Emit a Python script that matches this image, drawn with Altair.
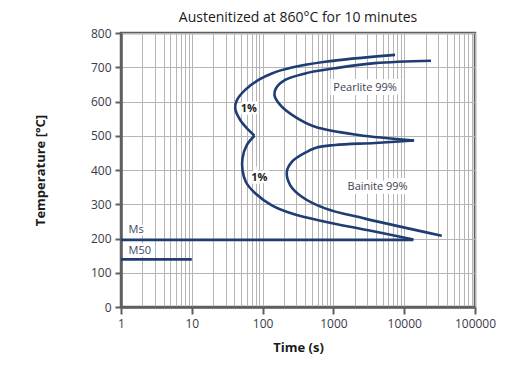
import altair as alt
import pandas as pd

# 1% transformation curve (outer), split at the cusp near 500 °C
outer_top_t = [7430, 764, 259, 135, 87.5, 56.8, 43.4, 41.0, 48.3, 63.2, 76.8]
outer_top_T = [736, 716, 699, 682, 663, 634, 604, 580, 546, 517, 500]
outer_bot_t = [76.8, 60.0, 52.0, 52.0, 58.1, 78.6, 135, 259, 764, 3120, 13460]
outer_bot_T = [500, 473, 434, 400, 365, 332, 297, 273, 249, 224, 197]

# 99% transformation curve (inner), split at the tip near 485 °C
inner_top_t = [23900, 3880, 1057, 399, 208, 154, 147, 177, 288, 552, 2250, 13780]
inner_top_T = [719, 712, 697, 682, 663, 638, 619, 590, 555, 526, 502, 486]
inner_bot_t = [13780, 3880, 1057, 583, 378, 259, 220, 245, 358, 764, 2800, 33900]
inner_bot_T = [486, 479, 473, 466, 448, 424, 395, 356, 322, 288, 258, 208]

# Martensite lines
ms_t = [1, 13460]
ms_T = [196, 196]
m50_t = [1, 10]
m50_T = [139, 139]

# Text labels
label_text = ["Pearlite 99%", "Bainite 99%", "1%", "1%", "Ms", "M50"]
label_t = [2800, 4210, 64, 90, 1.28, 1.28]
label_T = [638, 349, 578, 377, 224, 163]
label_kind = ["phase", "phase", "bold", "bold", "marker", "marker"]

x_grid_values = [m * 10 ** k for k in range(5) for m in range(1, 10)] + [100000]
y_values = list(range(0, 801, 100))

rows = []
for name, ts, Ts in [("outer_top", outer_top_t, outer_top_T),
                     ("outer_bot", outer_bot_t, outer_bot_T),
                     ("inner_top", inner_top_t, inner_top_T),
                     ("inner_bot", inner_bot_t, inner_bot_T),
                     ("ms", ms_t, ms_T),
                     ("m50", m50_t, m50_T)]:
    for i, (t, T) in enumerate(zip(ts, Ts)):
        rows.append({"seg": name, "order": i, "t": t, "T": T})
curves = pd.DataFrame(rows)

labels = pd.DataFrame({"text": label_text, "t": label_t, "T": label_T,
                       "kind": label_kind})

FONT = "Open Sans"
NAVY = "#1f3d73"
DECADES = "indexof([1,10,100,1000,10000,100000], datum.value) >= 0"

x_scale = alt.Scale(type="log", domain=[1, 100000], nice=False)
y_scale = alt.Scale(domain=[0, 800], nice=False)

x_enc = alt.X("t:Q", scale=x_scale, title="Time (s)",
              axis=alt.Axis(values=x_grid_values, grid=True,
                            labelExpr=DECADES + " ? format(datum.value, 'd') : ''",
                            labelOverlap=False, labelFlush=False,
                            tickSize={"condition": {"test": DECADES, "value": 7}, "value": 0},
                            labelPadding=4, titlePadding=12))
y_enc = alt.Y("T:Q", scale=y_scale, title="Temperature [°C]",
              axis=alt.Axis(values=y_values, grid=True, tickSize=6,
                            labelOverlap=False, labelFlush=False,
                            labelPadding=4, titlePadding=43))

base = alt.Chart(labels)


def text_layer(kind, align, weight, color, halo=0):
    kw = dict(font=FONT, fontSize=11, align=align, baseline="middle",
              fontWeight=weight, color=color)
    if halo:
        kw.update(stroke="white", strokeWidth=halo, color="white")
    return base.transform_filter(f"datum.kind == '{kind}'").mark_text(**kw).encode(
        x=x_enc, y=y_enc, text="text:N")


lines = alt.Chart(curves).mark_line(color=NAVY, strokeWidth=2.6,
                                    interpolate="catmull-rom").encode(
    x=x_enc, y=y_enc, detail="seg:N", order="order:Q")

layers = [
    text_layer("phase", "center", "normal", "white", halo=8),
    text_layer("bold", "center", "bold", "white", halo=5),
    text_layer("marker", "left", "normal", "white", halo=5),
    lines,
    text_layer("phase", "center", "normal", "#3c4150"),
    text_layer("bold", "center", "bold", "#222222"),
    text_layer("marker", "left", "normal", "#3a4866"),
]

chart = alt.layer(*layers).properties(
    width=354, height=274,
    autosize="none",
    padding={"left": 113, "top": 25, "right": 24, "bottom": 57},
    title=alt.TitleParams("Austenitized at 860°C for 10 minutes", anchor="middle",
                          font=FONT, fontSize=14, fontWeight="normal",
                          color="#1a1a1a", offset=2),
).configure_axis(
    labelFont=FONT, labelFontSize=12, labelColor="#3a3a48",
    titleFont=FONT, titleFontSize=13, titleFontWeight="bold", titleColor="#1a1a1a",
    gridColor="#b5b5b5", gridWidth=1, gridOpacity=1,
    domainColor="#5f5f5f", domainWidth=2.5,
    tickColor="#5f5f5f", tickWidth=2,
).configure_view(stroke="#5f5f5f", strokeWidth=2.5)

chart.save("out.html", embed_options={"renderer": "svg", "actions": False})
